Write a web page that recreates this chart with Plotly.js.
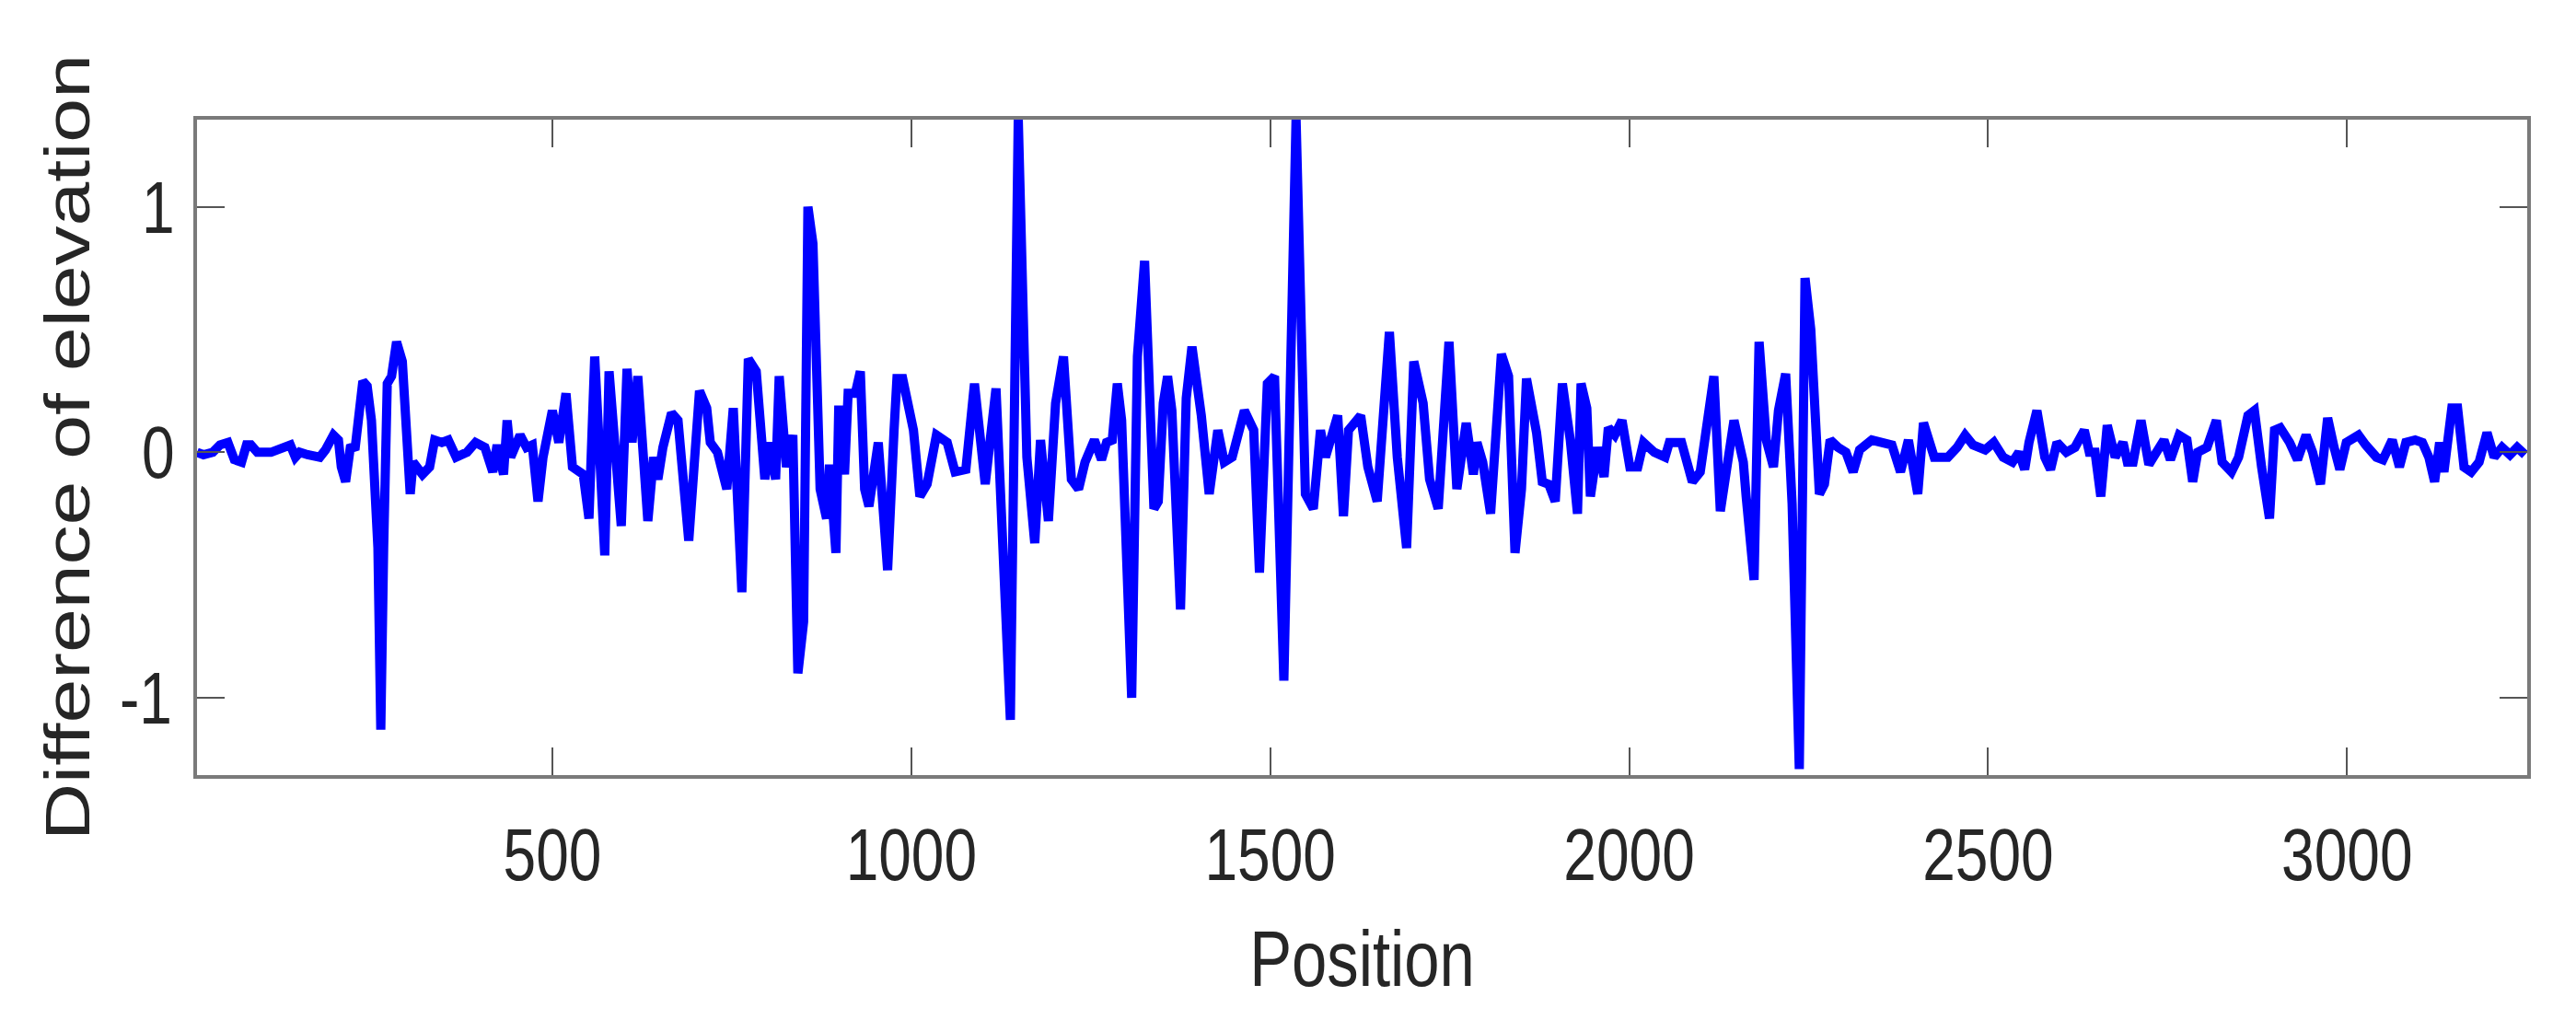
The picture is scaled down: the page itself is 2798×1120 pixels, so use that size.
<!DOCTYPE html>
<html>
<head>
<meta charset="utf-8">
<script src="https://cdn.plot.ly/plotly-3.0.1.min.js"></script>
<style>
  html, body { margin: 0; padding: 0; background: #fff; }
  #plot { width: 2798px; height: 1120px; }
</style>
</head>
<body>
<div id="plot"></div>
<script>
// values (peaks, troughs and turning points)
const position = [
  5, 14, 27, 37, 48, 53, 57, 67, 74, 80, 89, 108, 135, 142, 148, 159, 176, 184, 195, 202,
  206, 212, 219, 225, 236, 242, 248, 257, 261, 265, 270, 276, 283, 291, 297, 302, 306, 319, 329, 336,
  346, 355, 366, 381, 393, 406, 417, 423, 432, 437, 442, 455, 464, 472, 480, 487, 500, 509, 519, 528,
  543, 551, 559, 566, 573, 579, 585, 596, 604, 611, 619, 633, 641, 647, 654, 666, 675, 690, 705, 715,
  720, 730, 743, 752, 764, 773, 784, 796, 803, 811, 816, 826, 835, 842, 850, 856, 863, 873, 882, 886,
  895, 899, 907, 912, 922, 929, 935, 941, 954, 967, 976, 980, 988, 1003, 1012, 1022, 1035, 1050, 1061, 1076,
  1088, 1103, 1118, 1138, 1149, 1161, 1172, 1180, 1191, 1201, 1212, 1223, 1233, 1242, 1255, 1265, 1272, 1280, 1287, 1293,
  1307, 1315, 1325, 1332, 1338, 1344, 1351, 1357, 1363, 1375, 1383, 1391, 1404, 1415, 1427, 1436, 1447, 1464, 1477, 1485,
  1491, 1496, 1506, 1519, 1536, 1549, 1560, 1570, 1577, 1583, 1594, 1602, 1609, 1626, 1636, 1649, 1658, 1666, 1677, 1690,
  1700, 1713, 1722, 1734, 1749, 1760, 1773, 1783, 1788, 1796, 1807, 1822, 1832, 1841, 1850, 1857, 1871, 1879, 1888, 1897,
  1907, 1918, 1928, 1933, 1941, 1946, 1956, 1965, 1971, 1980, 1990, 2001, 2012, 2020, 2035, 2050, 2056, 2073, 2088, 2099,
  2118, 2127, 2146, 2159, 2163, 2174, 2181, 2191, 2201, 2208, 2218, 2227, 2237, 2245, 2253, 2259, 2265, 2272, 2280, 2291,
  2302, 2312, 2321, 2338, 2351, 2366, 2378, 2389, 2402, 2410, 2425, 2444, 2457, 2468, 2479, 2496, 2508, 2521, 2534, 2543,
  2551, 2557, 2568, 2579, 2587, 2596, 2609, 2621, 2634, 2641, 2649, 2657, 2666, 2677, 2688, 2694, 2702, 2713, 2724, 2734,
  2745, 2754, 2766, 2777, 2785, 2792, 2805, 2818, 2826, 2839, 2849, 2862, 2871, 2881, 2892, 2899, 2907, 2920, 2931, 2943,
  2952, 2963, 2973, 2982, 2990, 2999, 3016, 3026, 3041, 3050, 3063, 3073, 3082, 3095, 3105, 3114, 3122, 3129, 3135, 3146,
  3154, 3163, 3173, 3184, 3195, 3205, 3216, 3227, 3237, 3248
];

const elevationDiff = [
  0.00, -0.01, 0.00, 0.03, 0.04, 0.00, -0.03, -0.04, 0.03, 0.03, 0.00, 0.00, 0.03, -0.02, 0.00, -0.01, -0.02, 0.01, 0.07, 0.05,
  -0.06, -0.12, 0.03, 0.01, 0.29, 0.27, 0.13, -0.39, -1.13, -0.39, 0.28, 0.31, 0.45, 0.37, -0.02, -0.17, -0.04, -0.09, -0.06, 0.05,
  0.04, 0.05, -0.02, 0.00, 0.04, 0.02, -0.08, 0.03, -0.09, 0.13, -0.02, 0.07, 0.02, 0.03, -0.20, -0.02, 0.17, 0.04, 0.24, -0.06,
  -0.09, -0.27, 0.39, -0.09, -0.42, 0.33, 0.09, -0.30, 0.34, 0.04, 0.31, -0.28, -0.02, -0.11, 0.02, 0.16, 0.13, -0.36, 0.25, 0.18,
  0.04, 0.00, -0.15, 0.18, -0.57, 0.38, 0.33, -0.11, 0.04, -0.11, 0.31, -0.06, 0.07, -0.90, -0.69, 1.00, 0.85, -0.15, -0.27, -0.05,
  -0.41, 0.19, -0.09, 0.24, 0.24, 0.33, -0.15, -0.22, 0.04, -0.48, 0.09, 0.30, 0.30, 0.09, -0.18, -0.13, 0.07, 0.04, -0.08, -0.07,
  0.28, -0.13, 0.26, -1.09, 1.36, -0.02, -0.37, 0.05, -0.28, 0.20, 0.39, -0.11, -0.15, -0.04, 0.05, -0.03, 0.04, 0.05, 0.28, 0.13,
  -1.00, 0.39, 0.78, 0.17, -0.23, -0.20, 0.20, 0.31, 0.17, -0.64, 0.22, 0.43, 0.15, -0.17, 0.09, -0.04, -0.02, 0.17, 0.09, -0.49,
  -0.15, 0.28, 0.31, -0.93, 1.36, -0.17, -0.23, 0.09, -0.02, 0.04, 0.15, -0.26, 0.09, 0.15, -0.06, -0.20, 0.11, 0.49, -0.02, -0.39,
  0.37, 0.20, -0.11, -0.23, 0.45, -0.15, 0.12, -0.09, 0.04, -0.04, -0.25, 0.40, 0.31, -0.41, -0.15, 0.30, 0.08, -0.12, -0.13, -0.20,
  0.28, 0.05, -0.25, 0.28, 0.18, -0.18, 0.02, -0.10, 0.10, 0.07, 0.13, -0.06, -0.06, 0.04, 0.00, -0.02, 0.04, 0.04, -0.12, -0.08,
  0.31, -0.24, 0.13, -0.04, -0.18, -0.52, 0.45, 0.05, -0.06, 0.17, 0.32, -0.21, -1.29, 0.71, 0.50, 0.20, -0.17, -0.13, 0.05, 0.02,
  0.00, -0.08, 0.01, 0.05, 0.04, 0.03, -0.08, 0.05, -0.17, 0.12, -0.02, -0.02, 0.02, 0.07, 0.03, 0.01, 0.04, -0.02, -0.04, 0.00,
  -0.07, 0.04, 0.17, -0.02, -0.07, 0.04, 0.00, 0.02, 0.09, 0.00, 0.00, -0.18, 0.11, -0.02, 0.04, -0.04, -0.04, 0.13, -0.05, 0.00,
  0.05, -0.03, 0.07, 0.05, -0.12, 0.00, 0.02, 0.13, -0.04, -0.08, -0.02, 0.15, 0.17, -0.06, -0.27, 0.09, 0.10, 0.04, -0.03, 0.07,
  0.00, -0.13, 0.14, 0.02, -0.07, 0.04, 0.07, 0.03, -0.02, -0.03, 0.05, -0.06, 0.04, 0.05, 0.04, -0.02, -0.12, 0.04, -0.08, 0.18,
  0.18, -0.06, -0.08, -0.04, 0.08, -0.02, 0.02, -0.01, 0.02, -0.01
];

const xTicks = [500, 1000, 1500, 2000, 2500, 3000];
const yTicks = [-1, 0, 1];

const textFont = '"Liberation Sans", Arial, Helvetica, sans-serif';
const textColor = '#262626';

const trace = {
  type: 'scatter',
  mode: 'lines',
  x: position,
  y: elevationDiff,
  line: { color: '#0000ff', width: 10 },
  hoverinfo: 'x+y'
};

const axisCommon = {
  showgrid: false,
  zeroline: false,
  showline: true,
  linecolor: '#7a7a7a',
  linewidth: 4,
  mirror: 'ticks',
  ticks: 'inside',
  ticklen: 30,
  tickwidth: 2,
  tickcolor: '#555555',
  tickfont: { family: textFont, size: 80, color: textColor }
};

const layout = {
  width: 2798,
  height: 1120,
  margin: { l: 214, r: 53, t: 130, b: 278 },
  paper_bgcolor: '#ffffff',
  plot_bgcolor: '#ffffff',
  showlegend: false,
  xaxis: Object.assign({}, axisCommon, {
    range: [5, 3251],
    tickmode: 'array',
    tickvals: xTicks,
    ticktext: xTicks.map(String),
    ticklabelstandoff: 14,
    title: { text: 'Position', font: { family: textFont, size: 86, color: textColor }, standoff: 40 }
  }),
  yaxis: Object.assign({}, axisCommon, {
    range: [-1.315, 1.355],
    tickmode: 'array',
    tickvals: yTicks,
    ticktext: yTicks.map(String),
    title: { text: 'Difference of elevation', font: { family: textFont, size: 86, color: textColor }, standoff: 4 }
  })
};

// the reference figure is squeezed sideways, so its lettering is narrow:
// squeeze each text element horizontally about its own centre (plus an optional shift)
function squeezeText (el, k, dx) {
  const box = el.getBoundingClientRect();
  const svg = el.ownerSVGElement;
  const pt = svg.createSVGPoint();
  pt.x = box.left + box.width / 2;
  pt.y = box.top + box.height / 2;
  const p = pt.matrixTransform(el.parentNode.getScreenCTM().inverse());
  const old = el.getAttribute('transform') || '';
  el.setAttribute('transform',
    'translate(' + (p.x + dx) + ',0) scale(' + k + ',1) translate(' + (-p.x) + ',0) ' + old);
}

Plotly.newPlot('plot', [trace], layout, { displayModeBar: false, staticPlot: true }).then((gd) => {
  gd.querySelectorAll('.xtick text, .ytick text, .g-xtitle text').forEach((el) => {
    squeezeText(el, 0.8, 0);
  });
  gd.querySelectorAll('.g-ytitle text').forEach((el) => {
    squeezeText(el, 0.8, 12);
  });
});
</script>
</body>
</html>
